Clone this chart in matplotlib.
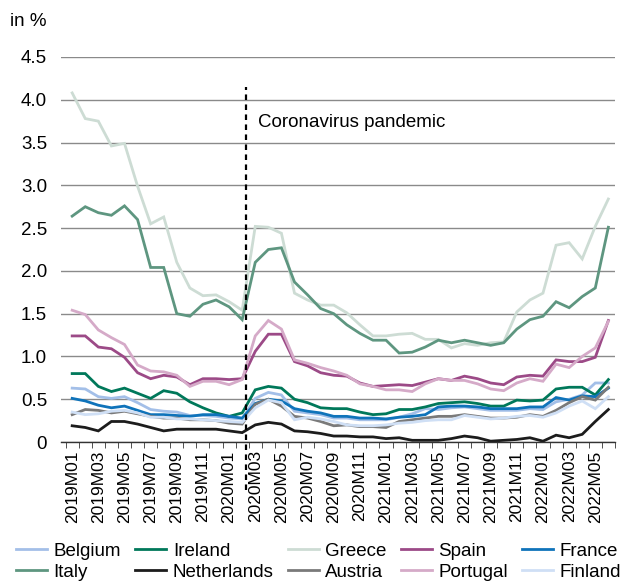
import matplotlib.pyplot as plt
import numpy as np

plt.rcParams['font.family'] = ['Liberation Sans', 'DejaVu Sans']

# months 2019M01 .. 2022M06
months = []
for yr in range(2019, 2023):
    for m in range(1, 13):
        months.append(f"{yr}M{m:02d}")
months = months[:42]

belgium = [0.63, 0.62, 0.53, 0.51, 0.53, 0.46, 0.38, 0.36, 0.35, 0.31, 0.31, 0.30, 0.28, 0.27,
           0.51, 0.58, 0.55, 0.36, 0.34, 0.32, 0.28, 0.28, 0.26, 0.26, 0.26, 0.29, 0.33, 0.39,
           0.38, 0.40, 0.41, 0.39, 0.37, 0.37, 0.37, 0.39, 0.38, 0.47, 0.50, 0.55, 0.69, 0.69]
ireland = [0.80, 0.80, 0.65, 0.59, 0.63, 0.57, 0.51, 0.60, 0.57, 0.47, 0.40, 0.34, 0.30, 0.34,
           0.61, 0.65, 0.63, 0.50, 0.46, 0.40, 0.39, 0.39, 0.35, 0.32, 0.33, 0.38, 0.38, 0.41,
           0.45, 0.46, 0.47, 0.45, 0.42, 0.42, 0.49, 0.48, 0.49, 0.62, 0.64, 0.64, 0.55, 0.73]
greece = [4.08, 3.78, 3.75, 3.46, 3.49, 2.99, 2.55, 2.63, 2.10, 1.80, 1.71, 1.72, 1.64, 1.54,
          2.52, 2.51, 2.44, 1.74, 1.66, 1.60, 1.60, 1.51, 1.37, 1.24, 1.24, 1.26, 1.27, 1.20,
          1.20, 1.10, 1.15, 1.13, 1.16, 1.17, 1.52, 1.66, 1.74, 2.30, 2.33, 2.14, 2.52, 2.84]
spain = [1.24, 1.24, 1.11, 1.09, 0.99, 0.81, 0.74, 0.78, 0.76, 0.67, 0.74, 0.74, 0.73, 0.74,
         1.06, 1.26, 1.26, 0.94, 0.89, 0.81, 0.78, 0.77, 0.69, 0.65, 0.66, 0.67, 0.66, 0.70,
         0.74, 0.72, 0.77, 0.74, 0.69, 0.67, 0.76, 0.78, 0.77, 0.96, 0.94, 0.94, 0.99, 1.42]
france = [0.51, 0.48, 0.43, 0.40, 0.42, 0.37, 0.32, 0.32, 0.31, 0.30, 0.32, 0.32, 0.30, 0.28,
          0.45, 0.50, 0.48, 0.39, 0.36, 0.34, 0.30, 0.30, 0.28, 0.28, 0.27, 0.29, 0.30, 0.32,
          0.41, 0.42, 0.42, 0.41, 0.39, 0.39, 0.39, 0.41, 0.41, 0.52, 0.49, 0.54, 0.53, 0.63]
italy = [2.64, 2.75, 2.68, 2.65, 2.76, 2.60, 2.04, 2.04, 1.50, 1.47, 1.61, 1.66, 1.58, 1.43,
         2.10, 2.25, 2.27, 1.87, 1.72, 1.56, 1.50, 1.37, 1.27, 1.19, 1.19, 1.04, 1.05, 1.11,
         1.19, 1.16, 1.19, 1.16, 1.13, 1.16, 1.32, 1.43, 1.47, 1.64, 1.57, 1.70, 1.80, 2.51]
netherlands = [0.19, 0.17, 0.13, 0.24, 0.24, 0.21, 0.17, 0.13, 0.15, 0.15, 0.15, 0.15, 0.13, 0.11,
               0.20, 0.23, 0.21, 0.13, 0.12, 0.10, 0.07, 0.07, 0.06, 0.06, 0.04, 0.05, 0.02, 0.02,
               0.02, 0.04, 0.07, 0.05, 0.01, 0.02, 0.03, 0.05, 0.01, 0.08, 0.05, 0.09, 0.24, 0.38]
austria = [0.32, 0.38, 0.37, 0.34, 0.36, 0.33, 0.30, 0.28, 0.28, 0.26, 0.26, 0.25, 0.22, 0.21,
           0.44, 0.50, 0.42, 0.30, 0.28, 0.24, 0.19, 0.20, 0.18, 0.18, 0.17, 0.24, 0.26, 0.28,
           0.30, 0.30, 0.32, 0.30, 0.28, 0.28, 0.29, 0.32, 0.30, 0.37, 0.46, 0.53, 0.49, 0.64]
portugal = [1.54, 1.49, 1.31, 1.22, 1.14, 0.90, 0.83, 0.82, 0.78, 0.65, 0.71, 0.71, 0.67, 0.73,
            1.24, 1.42, 1.32, 0.96, 0.92, 0.87, 0.83, 0.78, 0.68, 0.65, 0.61, 0.61, 0.59, 0.68,
            0.74, 0.72, 0.72, 0.68, 0.62, 0.60, 0.69, 0.74, 0.71, 0.91, 0.87, 1.00, 1.10, 1.41]
finland = [0.35, 0.32, 0.33, 0.36, 0.37, 0.34, 0.29, 0.29, 0.27, 0.27, 0.26, 0.25, 0.24, 0.23,
           0.40, 0.49, 0.46, 0.26, 0.29, 0.27, 0.24, 0.20, 0.19, 0.19, 0.20, 0.22, 0.23, 0.25,
           0.26, 0.26, 0.31, 0.29, 0.27, 0.28, 0.30, 0.31, 0.29, 0.34, 0.42, 0.48, 0.39, 0.53]

names = ["Belgium", "Ireland", "Greece", "Spain", "France",
         "Italy", "Netherlands", "Austria", "Portugal", "Finland"]
series = [belgium, ireland, greece, spain, france,
          italy, netherlands, austria, portugal, finland]
colors = ["#a3bfe8", "#00785a", "#cddcd4", "#9c4a87", "#0f73ba",
          "#5e9680", "#1c1c1c", "#7a7a7a", "#d5aac8", "#cfdff5"]

fig = plt.figure(figsize=(6.23, 5.85), dpi=100)
ax = fig.add_axes([0.098, 0.2444, 0.889, 0.6582])

x = np.arange(len(months))
lines = {}
for name, vals, c in zip(names, series, colors):
    ln, = ax.plot(x, vals, color=c, lw=2.0, label=name, solid_joinstyle='miter')
    lines[name] = ln

ax.set_ylim(0, 4.5)
ax.set_xlim(-0.85, 41.5)
ax.set_yticks(np.arange(0, 4.51, 0.5))
ax.set_yticklabels([f"{v:.1f}" if v > 0 else "0" for v in np.arange(0, 4.51, 0.5)])
ax.grid(axis='y', color='#8a8a8a', lw=1.0)
ax.set_axisbelow(True)
for s in ['top', 'right', 'left']:
    ax.spines[s].set_visible(False)
ax.spines['bottom'].set_color('#333333')
ax.spines['bottom'].set_linewidth(1.0)

ax.set_xticks(x[::2])
ax.set_xticklabels(months[::2], rotation=90, fontsize=12.5)
ax.set_xticks(np.arange(-0.5, 41.6, 1), minor=True)
ax.tick_params(axis='x', which='major', length=0, pad=6)
ax.tick_params(axis='x', which='minor', length=4, color='#333333', direction='out')
ax.tick_params(axis='y', length=0, labelsize=13.5, pad=10)

# pandemic marker
ax.plot([13.3, 13.3], [-0.56, 4.15], color='black', lw=1.6, ls=(0, (2.5, 2)),
        clip_on=False)
ax.text(14.2, 3.74, "Coronavirus pandemic", fontsize=13.5, va='center', ha='left')

fig.text(0.016, 0.963, "in %", fontsize=13.5, va='center', ha='left')

# legend filled row by row
order = ["Belgium", "Italy", "Ireland", "Netherlands", "Greece",
         "Austria", "Spain", "Portugal", "France", "Finland"]
fig.legend([lines[n] for n in order], order, ncol=5, loc='lower left',
           bbox_to_anchor=(0.008, -0.012), frameon=False, fontsize=13.5,
           handlelength=1.65, handletextpad=0.35, columnspacing=0.75,
           labelspacing=0.2, borderaxespad=0.2)

fig.savefig("out.png", dpi=100)
